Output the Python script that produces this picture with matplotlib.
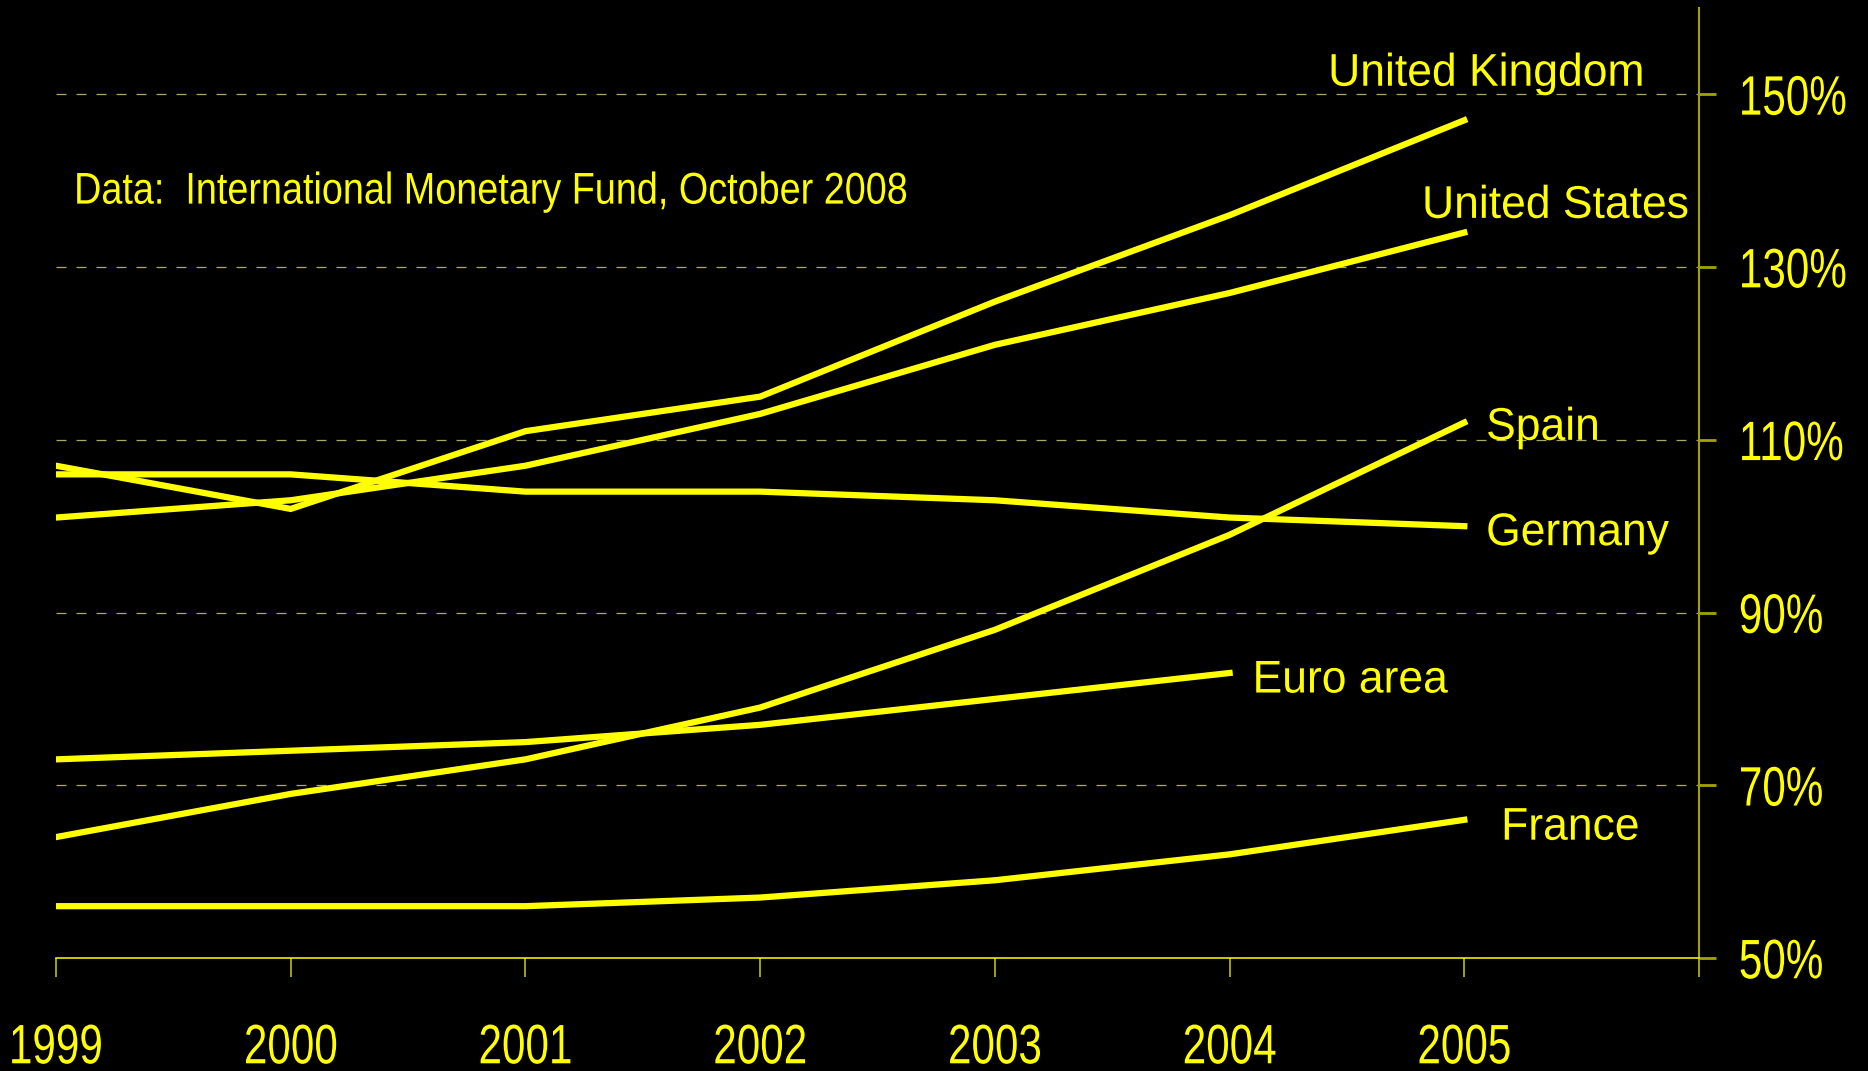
import matplotlib
matplotlib.use("Agg")
import matplotlib.pyplot as plt
from matplotlib.patheffects import AbstractPathEffect
from matplotlib.transforms import Affine2D

plt.rcParams['font.family'] = ['Liberation Sans', 'DejaVu Sans']

years = [1999, 2000, 2001, 2002, 2003, 2004, 2005]
uk = [107, 102, 111, 115, 126, 136, 147]
us = [101, 103, 107, 113, 121, 127, 134]
germany = [106, 106, 104, 104, 103, 101, 100]
spain = [64, 69, 73, 79, 88, 99, 112]
euro_years = [1999, 2000, 2001, 2002, 2003, 2004]
euro = [73, 74, 75, 77, 80, 83]
france = [56, 56, 56, 57, 59, 62, 66]

series_labels = ["United Kingdom", "United States", "Spain", "Germany", "Euro area", "France"]
label_pos = [(2004.42, 151.0), (2004.82, 135.7), (2005.093, 110.0),
             (2005.093, 97.8), (2004.098, 80.74), (2005.157, 63.7)]
yticks = [50, 70, 90, 110, 130, 150]
ytick_labels = ["50%", "70%", "90%", "110%", "130%", "150%"]
xticks = [1999, 2000, 2001, 2002, 2003, 2004, 2005, 2006]
xtick_labels = ["1999", "2000", "2001", "2002", "2003", "2004", "2005", ""]
source = "Data:  International Monetary Fund, October 2008"


class Stretch(AbstractPathEffect):
    """Draw glyphs scaled (sx, sy) about the text origin, then shifted by dy (em=100 units)."""
    def __init__(self, sx=1.0, sy=1.0, dy=0.0):
        super().__init__()
        self.sx, self.sy, self.dy = sx, sy, dy

    def draw_path(self, renderer, gc, tpath, affine, rgbFace=None):
        t = Affine2D().scale(self.sx, self.sy).translate(0, -self.dy)
        renderer.draw_path(gc, tpath, t + affine, rgbFace)


YEL = "#FFFF00"
OLIVE = "#A3A300"
GRID = "#A9A96A"

fig = plt.figure(figsize=(18.68, 10.71), dpi=100, facecolor="black")
ax = fig.add_axes([56/1868, 1-958/1071, (1699-56)/1868, (958-8)/1071])
ax.set_facecolor("black")

lw = 4.5
for ys in (uk, us, germany, spain, france):
    ax.plot(years, ys, color=YEL, lw=lw, solid_joinstyle="miter", zorder=3)
ax.plot(euro_years, euro, color=YEL, lw=lw, solid_joinstyle="miter", zorder=3)

ax.set_xlim(1999, 2006)
ax.set_ylim(50, 160)

for s in ("top", "left"):
    ax.spines[s].set_visible(False)
ax.spines["bottom"].set_color(YEL)
ax.spines["bottom"].set_linewidth(1.1)
ax.spines["right"].set_color(OLIVE)
ax.spines["right"].set_linewidth(1.5)

# tick labels: narrow, tall digits (font size 30.4pt stretched vertically)
tick_fs = 30.4
sy = 1 / 0.76
ax.yaxis.tick_right()
ax.set_yticks(yticks)
ax.set_yticklabels(ytick_labels)
ax.tick_params(axis="y", direction="out", length=12.2, width=2.0, color=OLIVE,
               labelcolor=YEL, labelsize=tick_fs, pad=16.5)
ax.set_xticks(xticks)
ax.set_xticklabels(xtick_labels)
ax.tick_params(axis="x", direction="out", length=13.5, width=1.1, color="#CFCF00",
               labelcolor=YEL, labelsize=tick_fs, pad=40)

for lab in ax.get_yticklabels():
    lab.set_path_effects([Stretch(1.0, sy, (sy - 1) * 35.8)])
for lab in ax.get_xticklabels():
    lab.set_path_effects([Stretch(1.0, sy, 0.0)])

for y in yticks[1:]:
    ax.axhline(y, color=GRID, lw=0.9, ls=(0, (8, 8)), zorder=1)

for lab, (x, y) in zip(series_labels, label_pos):
    ax.text(x, y, lab, color=YEL, fontsize=33, ha="left", va="baseline",
            path_effects=[Stretch(0.97, 1.0, 0.0)])

ax.text(1999.077, 137.35, source, color=YEL, fontsize=32, ha="left", va="baseline",
        path_effects=[Stretch(0.85, 1.0, 0.0)])

fig.savefig("out.png", dpi=100, facecolor="black")
